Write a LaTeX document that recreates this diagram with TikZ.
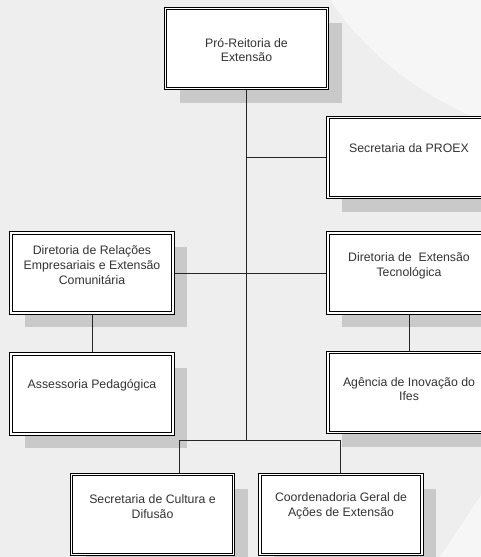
\documentclass[tikz,border=0pt]{standalone}
\usepackage{fontspec}
\setmainfont{Liberation Sans}
\usetikzlibrary{calc}
\definecolor{pagebg}{HTML}{EEEEEE}
\definecolor{glow}{HTML}{F6F6F6}
\definecolor{shade}{HTML}{C9C9C9}
\definecolor{ink}{HTML}{333333}
\pgfdeclarelayer{back}
\pgfdeclarelayer{lines}
\pgfsetlayers{back,lines,main}
\tikzset{
  x=1pt, y=-1pt,
  orgbox/.style={draw=black, line width=0.75pt, double=white, double distance=1.7pt,
    fill=white, minimum width=162pt, minimum height=80pt, inner sep=0pt},
  shadowbox/.style={fill=shade, draw=none, minimum width=162pt, minimum height=80pt, inner sep=0pt},
  lbl/.style={align=center, text=ink, font=\fontsize{12.3}{14.8}\selectfont, inner sep=0pt},
  wire/.style={draw=black!85, line width=0.8pt}
}
\begin{document}
\begin{tikzpicture}
  \useasboundingbox (0,0) rectangle (481,557);

  % boxes
  \node[orgbox] (b1) at (246.5,48.5) {};
  \node[orgbox] (b2) at (409,157.5) {};
  \node[orgbox] (b3) at (92,273) {};
  \node[orgbox] (b4) at (92,394) {};
  \node[orgbox] (b5) at (409,273) {};
  \node[orgbox] (b6) at (409,392.5) {};
  \node[orgbox] (b7) at (152.5,514.5) {};
  \node[orgbox] (b8) at (341,514.5) {};

  % labels
  \node[lbl] (t1) at ([yshift=-1.5pt]b1.center) {Pró-Reitoria de\\Extensão};
  \node[lbl] (t2) at ([yshift=9.5pt]b2.center) {Secretaria da PROEX};
  \node[lbl] (t3) at ([yshift=8pt]b3.center) {Diretoria de Relações\\Empresariais e Extensão\\Comunitária};
  \node[lbl] (t4) at ([yshift=9pt]b4.center) {Assessoria Pedagógica};
  \node[lbl] (t5) at ([yshift=7pt]b5.center) {Diretoria de~ Extensão\\Tecnológica};
  \node[lbl] (t6) at ([yshift=3.5pt]b6.center) {Agência de Inovação do\\Ifes};
  \node[lbl] (t7) at ([yshift=8pt]b7.center) {Secretaria de Cultura e\\Difusão};
  \node[lbl] (t8) at ([yshift=8.5pt]b8.center) {Coordenadoria Geral de\\Ações de Extensão};

  % junctions of the lower branch
  \coordinate (j7) at (179,440);
  \coordinate (j8) at (340,440);
  \coordinate (jm) at (b1.south |- j7);

  \begin{pgfonlayer}{back}
    \fill[pagebg] (0,0) rectangle (481,557);
    \fill[glow] (330,0) .. controls (370,60) and (430,100) .. (481,120) -- (481,0) -- cycle;
    \fill[glow] (440,557) -- (481,495) -- (481,557) -- cycle;
    \foreach \b in {b1,b2,b3,b4,b5,b6,b7,b8}
      \node[shadowbox] (s\b) at ($(\b.center)+(14,14)$) {};
  \end{pgfonlayer}

  \begin{pgfonlayer}{lines}
    \draw[wire] (b1.south) -- (jm);
    \draw[wire] (b2.west) -- (b2.west -| b1.south);
    \draw[wire] (b3.east) -- (b5.west);
    \draw[wire] (b3.south) -- (b4.north);
    \draw[wire] (b5.south) -- (b6.north);
    \draw[wire] (j7 |- b7.north) -- (j7) -- (j8) -- (j8 |- b8.north);
  \end{pgfonlayer}
\end{tikzpicture}
\end{document}
